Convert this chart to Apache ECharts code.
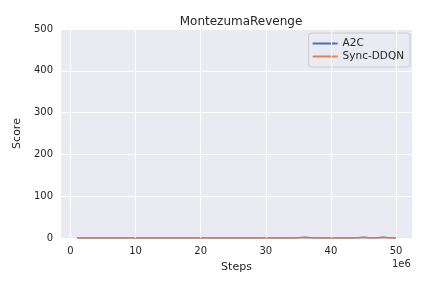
<!DOCTYPE html>
<html><head><meta charset="utf-8">
<script src="https://cdn.jsdelivr.net/npm/echarts@6/dist/echarts.min.js"></script>
<style>html,body{margin:0;padding:0;background:#fff}#c{width:432px;height:288px}</style>
</head><body><div id="c"></div>
<script>
const steps = [1,2,3,4,5,6,7,8,9,10,11,12,13,14,15,16,17,18,19,20,21,22,23,24,25,26,27,28,29,30,31,32,33,34,35,36,37,38,39,40,41,42,43,44,45,46,47,48,49,50];
const a2c = [0,0,0,0,0,0,0,0,0,0,0,0,0,0,0,0,0,0,0,0,0,0,0,0,0,0,0,0,0,0,0,0,0,0,0.5,2,0.5,0,0,0,0,0,0,0.5,2,0.5,0,2,0.5,0];
const syncDDQN = [0,0,0,0,0,0,0,0,0,0,0,0,0,0,0,0,0,0,0,0,0,0,0,0,0,0,0,0,0,0,0,0,0,0,0,0,0,0,0,0,0,0,0,0,0,0,0,0,0,0];
const xTicks = [0,10,20,30,40,50];
const yTicks = [0,100,200,300,400,500];
const font = 'DejaVu Sans';
const chart = echarts.init(document.getElementById('c'), null, {renderer:'canvas'});
chart.setOption({
  animation:false,
  backgroundColor:'#ffffff',
  title:{text:'MontezumaRevenge',left:236,top:11,textAlign:'center',textStyle:{fontFamily:font,fontSize:12,fontWeight:'normal',color:'#262626'}},
  grid:{left:61,right:20,top:29,bottom:50,show:true,backgroundColor:'#EAEAF2',borderWidth:0},
  legend:{right:22,top:33,orient:'vertical',itemWidth:25,itemHeight:2,itemGap:2,padding:[5,6,5,4],
    backgroundColor:'rgba(234,234,242,0.8)',borderColor:'#cccccc',borderWidth:1,borderRadius:3,
    icon:'rect',textStyle:{fontFamily:font,fontSize:10.5,color:'#262626',width:66},
    data:['A2C','Sync-DDQN']},
  xAxis:{type:'value',min:-1.45,max:52.45,
    name:'Steps',nameLocation:'middle',nameGap:24,nameTextStyle:{fontFamily:font,fontSize:11,color:'#262626'},
    axisLine:{show:false},
    axisLabel:{fontFamily:font,fontSize:10,color:'#262626',margin:8,customValues:xTicks,formatter:v=>String(v)},
    axisTick:{show:false,customValues:xTicks},
    splitLine:{show:false}},
  yAxis:{type:'value',min:0,max:500,interval:100,
    name:'Score',nameLocation:'middle',nameGap:35,nameTextStyle:{fontFamily:font,fontSize:11,color:'#262626'},
    axisLine:{show:false},axisTick:{show:false},
    splitLine:{show:true,lineStyle:{color:'#ffffff',width:1}},
    axisLabel:{fontFamily:font,fontSize:10,color:'#262626',margin:8}},
  graphic:[{type:'text',left:392,top:259,style:{text:'1e6',font:'10px "DejaVu Sans"',fill:'#262626'}}],
  series:[
    {name:'gridX',type:'line',data:[],silent:true,z:1,
      markLine:{silent:true,symbol:'none',label:{show:false},lineStyle:{color:'#ffffff',width:1,type:'solid'},
        data:xTicks.map(v=>({xAxis:v}))}},
    {name:'A2C',type:'line',data:steps.map((s,i)=>[s,a2c[i]]),showSymbol:false,smooth:true,lineStyle:{color:'#4C72B0',width:1.5},itemStyle:{color:'#4C72B0'},z:3},
    {name:'Sync-DDQN',type:'line',data:steps.map((s,i)=>[s,syncDDQN[i]]),showSymbol:false,lineStyle:{color:'#DD8452',width:1.5},itemStyle:{color:'#DD8452'},z:4}
  ]
});
</script></body></html>
